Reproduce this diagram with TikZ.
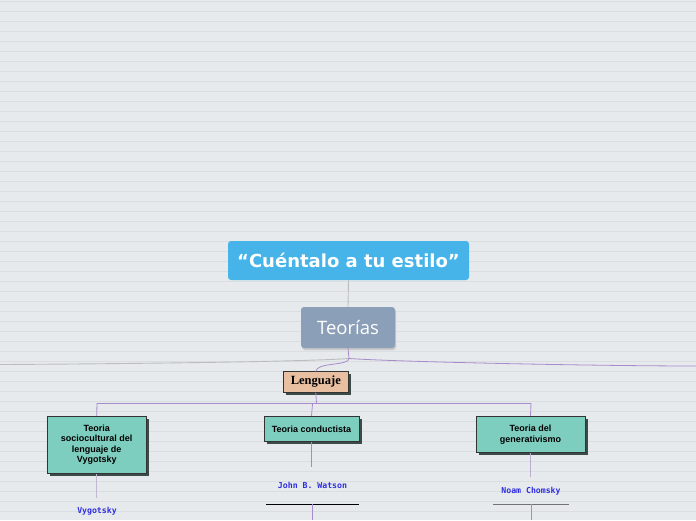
\documentclass[tikz,border=0pt]{standalone}
\usepackage{fontspec}
\setmainfont{Liberation Sans}
\newfontfamily\titlefont{DejaVu Sans}
\newfontfamily\teofont{Open Sans}
\newfontfamily\serfont{Liberation Serif}
\newfontfamily\monofont{DejaVu Sans Mono}
\definecolor{bg}{HTML}{E6EAED}
\definecolor{bgline}{HTML}{DADEE1}
\definecolor{titlec}{HTML}{46B3E9}
\definecolor{teoc}{HTML}{8C9FB8}
\definecolor{lenc}{HTML}{E8BFA0}
\definecolor{tealc}{HTML}{7ECEC0}
\definecolor{purp}{HTML}{A88BCB}
\definecolor{greyl}{HTML}{BDBDBD}
\definecolor{bluet}{HTML}{2E2EE0}
\definecolor{shadowc}{HTML}{3C4A48}
\tikzset{
  x=1pt, y=-1pt,
  titlebox/.style={fill=titlec, rounded corners=3pt, minimum width=241pt, minimum height=39pt, text=white, font=\titlefont\bfseries\fontsize{18}{21}\selectfont, inner sep=0pt},
  teobox/.style={fill=teoc, rounded corners=3pt, minimum width=94pt, minimum height=41pt, text=white, font=\teofont\fontsize{18.5}{21}\selectfont, inner sep=0pt},
  lenbox/.style={fill=lenc, draw=black!80, line width=0.6pt, minimum width=65pt, minimum height=20.5pt, font=\serfont\bfseries\fontsize{12.5}{14}\selectfont, inner sep=0pt},
  tealbox/.style={fill=tealc, draw=black!80, line width=0.6pt, align=center, font=\bfseries\fontsize{9}{10.6}\selectfont, inner sep=0pt},
  person/.style={text=bluet, font=\monofont\bfseries\fontsize{8.2}{9}\selectfont, inner sep=0pt},
  conn/.style={purp, line width=0.8pt},
  gconn/.style={greyl, line width=0.9pt},
}
\begin{document}
\begin{tikzpicture}
\fill[bg] (0,0) rectangle (696,520);
\useasboundingbox (0,0) rectangle (696,520);
\foreach \k in {0,...,51} {
  \draw[bgline, line width=0.5pt] (0,1.5+10*\k) -- (696,1.5+10*\k);
}
% shadows
\fill[black!22, rounded corners=3pt] (302,309) rectangle (396,350);
\fill[shadowc] (285.5,374) rectangle (350.5,394.5);
\fill[shadowc] (49.5,418.5) rectangle (148.5,475.5);
\fill[shadowc] (266.5,418.5) rectangle (361.5,444.2);
\fill[shadowc] (478.5,418.5) rectangle (587.5,455.2);
% nodes
\node[titlebox] (title) at (348.5,260.5) {“Cuéntalo a tu estilo”};
\node[teobox] (teo) at (348,327.5) {Teorías};
\node[lenbox] (len) at (315.8,382) {Lenguaje};
\node[tealbox, minimum width=98.7pt, minimum height=57.3pt] (vyg) at (96.7,444.7) {Teoria\\sociocultural del\\lenguaje de\\Vygotsky};
\node[tealbox, minimum width=95pt, minimum height=25.7pt] (cond) at (311.5,428.9) {Teoria conductista};
\node[tealbox, minimum width=109pt, minimum height=36.7pt] (gen) at (530.5,434.4) {Teoria del\\generativismo};
\node[person] (pv) at (97,511) {Vygotsky};
\node[person] (pw) at (312.5,485.5) {John B. Watson};
\node[person] (pc) at (531,491) {Noam Chomsky};
% coordinates
\coordinate (J) at (349,358.5);
\coordinate (L0) at (0,364.5);
\coordinate (R0) at (696,366);
\coordinate (B) at (316.5,403.2);
\coordinate (BL) at (97,403.2);
\coordinate (BR) at (531,403.2);
\coordinate (BM) at (312.6,403.2);
\coordinate (uw) at (312.6,504);
\coordinate (uc) at (531,504.3);
\coordinate (ew) at (312.6,520);
\coordinate (ec) at (531,520);
% connectors
\draw[gconn] (title.south) -- (teo.north);
\draw[conn] (teo.south) -- (J);
\draw[greyl, line width=0.9pt] (J) .. controls (300,362) and (100,364) .. (L0);
\draw[conn] (J) .. controls (400,362) and (600,366) .. (R0);
\draw[conn] (J) .. controls (349,366) and (316.5,362) .. (len.north);
\draw[conn] (len.south) -- (B);
\draw[conn] (BL) -- (BR);
\draw[conn] (BL) -- (vyg.north);
\draw[conn] (BM) -- (cond.north);
\draw[conn] (BR) -- (gen.north);
\draw[purp!70!gray!60, line width=0.8pt] (vyg.south) -- ++(0,24);
\draw[conn] (cond.south) -- ++(0,24.5);
\draw[purp!80!gray!70, line width=0.8pt] (gen.south) -- ++(0,23.5);
\draw[black, line width=0.8pt] (266,504) -- (359,504);
\draw[black!55, line width=1.6pt] (493,504.3) -- (569.3,504.3);
\draw[conn] (uw) -- (ew);
\draw[conn] (uc) -- (ec);
\end{tikzpicture}
\end{document}
